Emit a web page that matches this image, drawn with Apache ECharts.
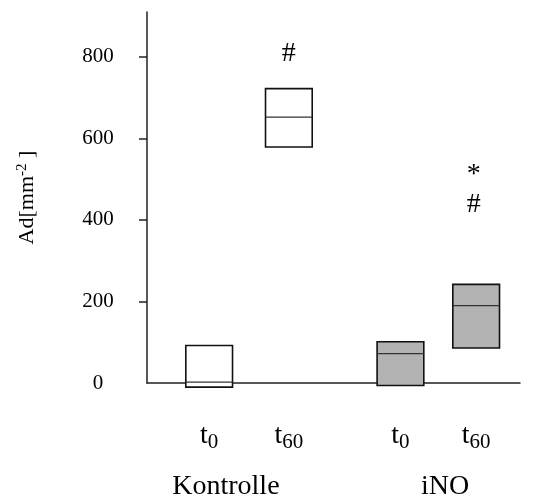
<!DOCTYPE html>
<html>
<head>
<meta charset="utf-8">
<script src="https://cdn.jsdelivr.net/npm/echarts@6/dist/echarts.min.js"></script>
<style>
  html, body { margin: 0; padding: 0; background: #fff; }
  #chart { width: 540px; height: 502px; }
</style>
</head>
<body>
<div id="chart"></div>
<script>
// positions on the x axis (value scale) for t0 / t60 of each group
const xPos = [1, 2, 3.4, 4.35];
const timeLabels = ["0", "60", "0", "60"];
const groups = ["Kontrolle", "Kontrolle", "iNO", "iNO"];
// box values: lower quartile, median, upper quartile
const lower = [-10, 579, -6, 86];
const median = [2, 652, 72, 190];
const upper = [92, 722, 101, 242];
// group captions
const groupNames = ["Kontrolle", "iNO"];
const groupPos = [1.21, 3.96];
// significance marks
const markX = [2, 4.32, 4.32];
const markY = [808, 510, 438];
const markText = ["#", "*", "#"];
const yLabels = [0, 200, 400, 600, 800];
const yTicks = [200, 400, 600, 800];

const boxData = xPos.map((x, i) => [x, lower[i], median[i], upper[i], groups[i]]);
const markData = markX.map((x, i) => [x, markY[i], markText[i]]);

const font = "Liberation Serif";
const myChart = echarts.init(document.getElementById("chart"));

myChart.setOption({
  animation: false,
  grid: { left: 147, right: 20, top: 12, bottom: 119 },
  xAxis: [
    {
      type: "value",
      min: 0.22,
      max: 4.9,
      splitLine: { show: false },
      axisLine: { lineStyle: { color: "#222", width: 1.5 } },
      axisTick: { show: false },
      axisLabel: {
        customValues: xPos,
        margin: 35,
        formatter: v => {
          const i = xPos.indexOf(v);
          return "{t|t}{s|" + timeLabels[i] + "}";
        },
        rich: {
          t: { fontFamily: font, fontSize: 28, color: "#000" },
          s: { fontFamily: font, fontSize: 21, color: "#000", padding: [14, 0, 0, 0] }
        }
      }
    },
    {
      type: "value",
      position: "bottom",
      min: 0.22,
      max: 4.9,
      splitLine: { show: false },
      axisLine: { show: false },
      axisTick: { show: false },
      axisLabel: {
        customValues: groupPos,
        margin: 90,
        fontFamily: font,
        fontSize: 28,
        color: "#000",
        formatter: v => groupNames[groupPos.indexOf(v)]
      }
    }
  ],
  yAxis: {
    type: "value",
    min: 0,
    max: 910,
    splitLine: { show: false },
    axisLine: { show: true, lineStyle: { color: "#222", width: 1.5 } },
    axisTick: { show: true, customValues: yTicks, length: 8, lineStyle: { color: "#222", width: 1.5 } },
    axisLabel: {
      customValues: yLabels,
      align: "center",
      margin: 49,
      padding: [8, 0, 0, 0],
      fontFamily: font,
      fontSize: 21,
      color: "#000"
    },
    name: "{a|Ad[mm}{sup|-2}{a| ]}",
    nameLocation: "middle",
    nameRotate: 90,
    nameGap: 108,
    nameTextStyle: {
      rich: {
        a: { fontFamily: font, fontSize: 22, color: "#000" },
        sup: { fontFamily: font, fontSize: 15, color: "#000", padding: [0, 0, 9, 0] }
      }
    }
  },
  series: [
    {
      type: "custom",
      data: boxData,
      renderItem: (params, api) => {
        const x = api.value(0);
        const half = 0.293;
        const tl = api.coord([x - half, api.value(3)]);
        const br = api.coord([x + half, api.value(1)]);
        const ml = api.coord([x - half, api.value(2)]);
        const mr = api.coord([x + half, api.value(2)]);
        const fill = api.value(4) === "iNO" ? "#b3b3b3" : "#fff";
        return {
          type: "group",
          children: [
            {
              type: "rect",
              shape: { x: tl[0], y: tl[1], width: br[0] - tl[0], height: br[1] - tl[1] },
              style: { fill: fill, stroke: "#111", lineWidth: 1.6 }
            },
            {
              type: "line",
              shape: { x1: ml[0], y1: ml[1], x2: mr[0], y2: mr[1] },
              style: { stroke: "#333", lineWidth: 1.2 }
            }
          ]
        };
      }
    },
    {
      type: "custom",
      data: markData,
      renderItem: (params, api) => {
        const p = api.coord([api.value(0), api.value(1)]);
        return {
          type: "text",
          x: p[0],
          y: p[1],
          style: {
            text: markData[params.dataIndex][2],
            fontFamily: font,
            fontSize: 28,
            fill: "#000",
            align: "center",
            verticalAlign: "middle"
          }
        };
      }
    }
  ]
});
</script>
</body>
</html>
